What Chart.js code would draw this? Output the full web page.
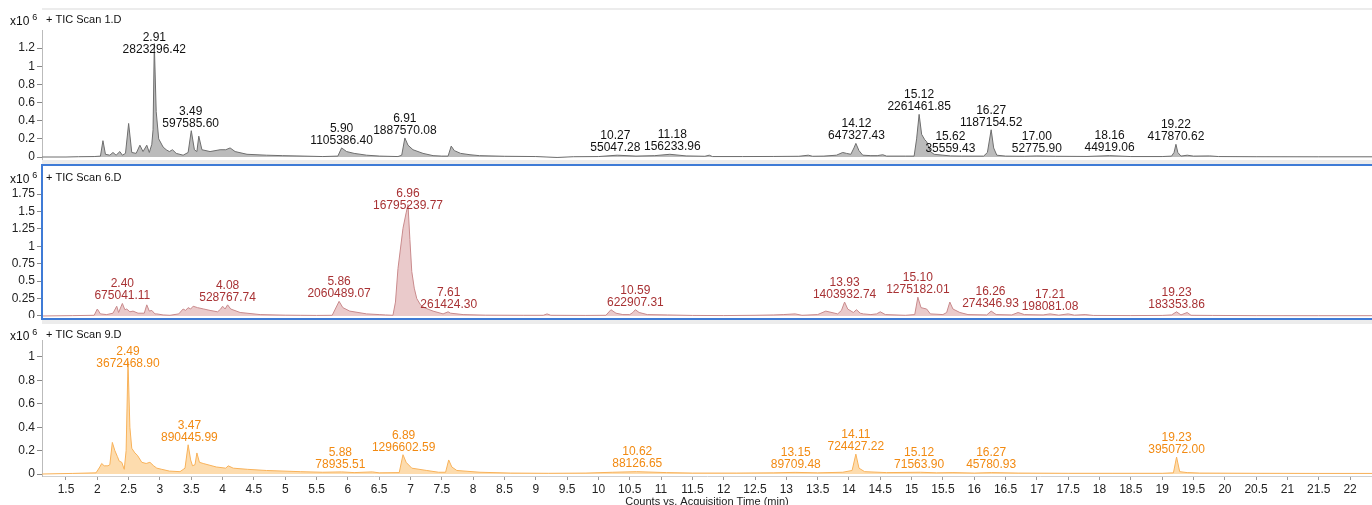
<!DOCTYPE html>
<html>
<head>
<meta charset="utf-8">
<script src="https://cdn.jsdelivr.net/npm/chart.js@4.4.1/dist/chart.umd.min.js"></script>
<style>
  body { margin: 0; background: #fff; width: 1372px; height: 505px; overflow: hidden; position: relative; font-family: "Liberation Sans", Arial, sans-serif; }
  canvas { position: absolute; left: 0; }
  .sep { position: absolute; left: 42px; width: 1330px; background: #ececec; }
  #box6 { position: absolute; left: 41px; top: 164px; width: 1340px; height: 152px; border: 2px solid #3f7bd6; pointer-events: none; }
</style>
</head>
<body>
<div class="sep" style="top:8px;height:2px"></div>
<div class="sep" style="top:160px;height:4px"></div>
<div class="sep" style="top:320px;height:4px"></div>
<canvas id="tic1" width="1372" height="150" style="top:10px"></canvas>
<canvas id="tic6" width="1372" height="153" style="top:165px"></canvas>
<canvas id="tic9" width="1372" height="183" style="top:322px"></canvas>
<div id="box6"></div>
<script>
// x axis (acquisition time, min)
const xTicks = [1.5, 2, 2.5, 3, 3.5, 4, 4.5, 5, 5.5, 6, 6.5, 7, 7.5, 8, 8.5, 9, 9.5, 10, 10.5, 11,
  11.5, 12, 12.5, 13, 13.5, 14, 14.5, 15, 15.5, 16, 16.5, 17, 17.5, 18, 18.5, 19, 19.5, 20, 20.5, 21, 21.5, 22];

// TIC Scan 1.D  (counts x10^6)
const tic1Time = [1.12, 1.5, 1.7, 1.95, 2.05, 2.09, 2.13, 2.2, 2.25, 2.3, 2.36, 2.4, 2.45, 2.5, 2.55, 2.62, 2.68, 2.73, 2.79, 2.83,
  2.87, 2.89, 2.91, 2.94, 2.98, 3.05, 3.1, 3.15, 3.2, 3.26, 3.37, 3.45, 3.5, 3.55, 3.59, 3.62, 3.67, 3.8, 3.96, 4.05,
  4.12, 4.2, 4.39, 4.7, 4.96, 5.3, 5.6, 5.84, 5.9, 5.98, 6.1, 6.3, 6.51, 6.8, 6.86, 6.91, 6.96, 7.04, 7.2, 7.36,
  7.5, 7.6, 7.65, 7.7, 7.8, 7.95, 8.1, 8.5, 9.0, 9.34, 9.6, 10.0, 10.3, 10.6, 10.9, 11.14, 11.4, 11.7, 11.77, 11.82,
  12.3, 12.8, 13.2, 13.35, 13.42, 13.6, 13.8, 13.9, 13.96, 14.03, 14.08, 14.11, 14.16, 14.22, 14.35, 14.45, 14.54, 14.6, 14.9, 15.04,
  15.08, 15.12, 15.16, 15.21, 15.24, 15.3, 15.36, 15.5, 15.62, 15.8, 16.15, 16.21, 16.27, 16.31, 16.36, 16.5, 16.8, 17.0, 17.3, 17.8,
  18.16, 18.5, 19.0, 19.15, 19.19, 19.22, 19.25, 19.3, 19.4, 19.5, 19.76, 19.9, 20.5, 21.5, 22.4];
const tic1Counts = [0, 0, 0.003, 0.005, 0.01, 0.18, 0.03, 0.02, 0.05, 0.02, 0.06, 0.02, 0.04, 0.37, 0.05, 0.04, 0.13, 0.06, 0.13, 0.05,
  0.14, 0.3, 1.25, 0.5, 0.2, 0.11, 0.08, 0.06, 0.08, 0.04, 0.02, 0.05, 0.29, 0.08, 0.06, 0.23, 0.08, 0.06, 0.08, 0.08,
  0.1, 0.06, 0.03, 0.02, 0.015, 0.01, 0.005, 0.01, 0.1, 0.06, 0.04, 0.02, 0.01, 0.005, 0.02, 0.21, 0.13, 0.08, 0.04, 0.015,
  0.01, 0.01, 0.12, 0.07, 0.04, 0.025, 0.015, 0.008, 0.005, -0.005, 0.003, 0.005, 0.02, 0.01, 0.015, 0.03, 0.012, 0.008, 0.02, 0.005,
  0.005, 0.006, 0.008, 0.02, 0.008, 0.01, 0.02, 0.05, 0.04, 0.03, 0.1, 0.15, 0.07, 0.02, 0.015, 0.015, 0.025, 0.01, 0.01, 0.01,
  0.2, 0.47, 0.25, 0.19, 0.17, 0.06, 0.03, 0.02, 0.012, 0.01, 0.01, 0.05, 0.3, 0.1, 0.02, 0.01, 0.008, 0.012, 0.008, 0.006,
  0.015, 0.005, 0.005, 0.01, 0.05, 0.14, 0.05, 0.01, 0.02, 0.01, 0.012, 0.005, 0.003, 0.002, 0.002];
const tic1PeakRT = [2.91, 3.49, 5.90, 6.91, 10.27, 11.18, 14.12, 15.12, 15.62, 16.27, 17.00, 18.16, 19.22];
const tic1PeakArea = ['2823296.42', '597585.60', '1105386.40', '1887570.08', '55047.28', '156233.96', '647327.43',
  '2261461.85', '35559.43', '1187154.52', '52775.90', '44919.06', '417870.62'];
const tic1YTicks = [0, 0.2, 0.4, 0.6, 0.8, 1, 1.2];

// TIC Scan 6.D
const tic6Time = [1.12, 1.6, 1.95, 2.0, 2.05, 2.15, 2.25, 2.31, 2.34, 2.4, 2.44, 2.47, 2.52, 2.57, 2.65, 2.75, 2.79, 2.83, 2.87, 2.92,
  2.95, 3.05, 3.16, 3.3, 3.37, 3.41, 3.45, 3.49, 3.53, 3.6, 3.7, 3.8, 3.92, 3.97, 4.0, 4.04, 4.08, 4.13, 4.28, 4.6,
  5.0, 5.24, 5.5, 5.75, 5.86, 5.92, 6.03, 6.3, 6.5, 6.6, 6.72, 6.76, 6.8, 6.88, 6.93, 6.96, 6.99, 7.02, 7.06, 7.1,
  7.16, 7.22, 7.36, 7.52, 7.6, 7.64, 7.84, 8.2, 8.8, 9.12, 9.18, 9.24, 9.8, 10.12, 10.2, 10.28, 10.39, 10.5, 10.55, 10.59,
  10.65, 10.78, 11.1, 11.5, 12.0, 12.5, 12.8, 12.95, 13.14, 13.25, 13.5, 13.63, 13.82, 13.88, 13.93, 13.98, 14.07, 14.12, 14.18, 14.23,
  14.35, 14.44, 14.5, 14.58, 14.9, 15.05, 15.1, 15.15, 15.24, 15.3, 15.5, 15.56, 15.61, 15.66, 15.77, 15.9, 16.2, 16.27, 16.35, 16.6,
  16.7, 16.8, 17.1, 17.21, 17.35, 17.5, 17.6, 17.77, 17.9, 18.5, 19.0, 19.15, 19.23, 19.3, 19.4, 19.46, 19.8, 20.5, 21.5, 22.4];
const tic6Counts = [0, 0.005, 0.01, 0.1, 0.03, 0.02, 0.04, 0.14, 0.05, 0.18, 0.09, 0.1, 0.06, 0.07, 0.04, 0.04, 0.16, 0.07, 0.08, 0.03,
  0.03, 0.015, 0.01, 0.03, 0.1, 0.08, 0.12, 0.1, 0.14, 0.12, 0.1, 0.08, 0.06, 0.1, 0.14, 0.1, 0.16, 0.1, 0.05, 0.02,
  0.012, 0.01, 0.008, 0.01, 0.21, 0.12, 0.07, 0.03, 0.02, 0.015, 0.01, 0.2, 0.68, 1.26, 1.48, 1.6, 1.1, 0.64, 0.4, 0.25,
  0.16, 0.12, 0.07, 0.03, 0.06, 0.04, 0.02, 0.012, 0.01, 0.01, 0.03, 0.01, 0.008, 0.01, 0.09, 0.04, 0.02, 0.02, 0.05, 0.09,
  0.05, 0.02, 0.015, 0.008, 0.006, 0.01, 0.015, 0.02, 0.03, 0.01, 0.02, 0.07, 0.03, 0.08, 0.2, 0.1, 0.05, 0.09, 0.04, 0.03,
  0.02, 0.03, 0.06, 0.02, 0.01, 0.02, 0.27, 0.12, 0.1, 0.03, 0.02, 0.05, 0.2, 0.1, 0.05, 0.02, 0.015, 0.07, 0.02, 0.015,
  0.05, 0.02, 0.015, 0.03, 0.012, 0.03, 0.012, 0.02, 0.008, 0.006, 0.008, 0.015, 0.06, 0.015, 0.05, 0.01, 0.008, 0.005, 0.004, 0.004];
const tic6PeakRT = [2.40, 4.08, 5.86, 6.96, 7.61, 10.59, 13.93, 15.10, 16.26, 17.21, 19.23];
const tic6PeakArea = ['675041.11', '528767.74', '2060489.07', '16795239.77', '261424.30', '622907.31', '1403932.74',
  '1275182.01', '274346.93', '198081.08', '183353.86'];
const tic6YTicks = [0, 0.25, 0.5, 0.75, 1, 1.25, 1.5, 1.75];

// TIC Scan 9.D
const tic9Time = [1.12, 1.6, 1.98, 2.04, 2.07, 2.11, 2.14, 2.17, 2.2, 2.24, 2.28, 2.32, 2.35, 2.39, 2.43, 2.46, 2.49, 2.52, 2.55, 2.6,
  2.64, 2.71, 2.78, 2.84, 2.9, 2.95, 3.03, 3.15, 3.32, 3.4, 3.45, 3.49, 3.52, 3.56, 3.59, 3.63, 3.69, 3.9, 4.05, 4.09,
  4.17, 4.4, 4.7, 5.24, 5.6, 5.9, 6.1, 6.39, 6.5, 6.82, 6.88, 6.93, 7.02, 7.26, 7.45, 7.56, 7.61, 7.66, 7.74, 8.11,
  8.6, 9.2, 9.8, 10.23, 10.61, 11.09, 11.5, 12.2, 12.8, 13.14, 13.5, 13.9, 14.05, 14.11, 14.16, 14.25, 14.6, 15.14, 15.4, 15.66,
  16.0, 16.28, 16.7, 17.5, 18.2, 19.0, 19.18, 19.23, 19.28, 19.4, 19.6, 20.5, 21.5, 22.4];
const tic9Counts = [0, 0.005, 0.01, 0.06, 0.09, 0.07, 0.07, 0.07, 0.08, 0.27, 0.2, 0.15, 0.11, 0.1, 0.04, 0.2, 0.96, 0.4, 0.22, 0.18,
  0.16, 0.1, 0.09, 0.1, 0.07, 0.05, 0.04, 0.025, 0.02, 0.05, 0.25, 0.12, 0.07, 0.08, 0.18, 0.1, 0.09, 0.06, 0.05, 0.07,
  0.05, 0.04, 0.03, 0.02, 0.015, 0.018, 0.012, 0.018, 0.01, 0.012, 0.165, 0.1, 0.05, 0.03, 0.015, 0.015, 0.12, 0.06, 0.03, 0.015,
  0.008, 0.006, 0.008, 0.015, 0.02, 0.012, 0.008, 0.008, 0.01, 0.014, 0.01, 0.015, 0.03, 0.17, 0.05, 0.02, 0.012, 0.015, 0.01, 0.012,
  0.008, 0.012, 0.008, 0.006, 0.006, 0.006, 0.01, 0.145, 0.02, 0.012, 0.008, 0.006, 0.005, 0.005];
const tic9PeakRT = [2.49, 3.47, 5.88, 6.89, 10.62, 13.15, 14.11, 15.12, 16.27, 19.23];
const tic9PeakArea = ['3672468.90', '890445.99', '78935.51', '1296602.59', '88126.65', '89709.48', '724427.22',
  '71563.90', '45780.93', '395072.00'];
const tic9YTicks = [0, 0.2, 0.4, 0.6, 0.8, 1];

const FONT = '"Liberation Sans", Arial, Helvetica, sans-serif';

// height of the trace near a retention time (for placing the peak labels)
function apexAt(times, counts, rt) {
  let best = 0;
  for (let i = 0; i < times.length; i++) {
    if (Math.abs(times[i] - rt) <= 0.035) best = Math.max(best, counts[i]);
    if (i > 0 && times[i - 1] <= rt && times[i] >= rt) {
      const f = (rt - times[i - 1]) / (times[i] - times[i - 1]);
      best = Math.max(best, counts[i - 1] + f * (counts[i] - counts[i - 1]));
    }
  }
  return best;
}

const peakLabels = {
  id: 'peakLabels',
  afterDatasetsDraw(chart, args, opts) {
    const ctx = chart.ctx;
    const xs = chart.scales.x, ys = chart.scales.y;
    const area = chart.chartArea;
    ctx.save();
    // header
    ctx.fillStyle = '#111';
    ctx.textBaseline = 'middle';
    ctx.textAlign = 'left';
    ctx.font = '12px ' + FONT;
    ctx.fillText('x10', 10, opts.headY + 2);
    const w = ctx.measureText('x10').width;
    ctx.font = '9px ' + FONT;
    ctx.fillText('6', 10 + w + 3, opts.headY - 2);
    ctx.font = '11px ' + FONT;
    ctx.fillText(opts.title, 46, opts.headY);
    // peak annotations
    ctx.font = '12px ' + FONT;
    ctx.textAlign = 'center';
    ctx.fillStyle = opts.color;
    opts.rts.forEach((rt, i) => {
      const x = xs.getPixelForValue(rt);
      let yb = ys.getPixelForValue(apexAt(opts.times, opts.counts, rt)) - 7.5;
      let yt = yb - 12;
      if (yt < area.top + opts.clamp) { yt = area.top + opts.clamp; yb = yt + 12; }
      ctx.fillText(rt.toFixed(2), x, yt);
      ctx.fillText(opts.areas[i], x, yb);
    });
    ctx.restore();
  }
};

function makePanel(id, p) {
  const points = p.times.map((t, i) => ({ x: t, y: p.counts[i] }));
  return new Chart(document.getElementById(id), {
    type: 'line',
    data: {
      datasets: [{
        data: points,
        borderColor: p.line,
        backgroundColor: p.fill,
        borderWidth: 1,
        pointRadius: 0,
        tension: 0,
        fill: 'origin'
      }]
    },
    plugins: [peakLabels],
    options: {
      responsive: false,
      animation: false,
      devicePixelRatio: 1,
      layout: { padding: { top: p.padTop, right: 0, bottom: 0, left: 0 } },
      plugins: {
        legend: { display: false },
        tooltip: { enabled: false },
        peakLabels: {
          title: p.title, headY: p.headY, color: p.text, clamp: p.clamp,
          rts: p.rts, areas: p.areas, times: p.times, counts: p.counts
        }
      },
      scales: {
        x: {
          type: 'linear',
          min: 1.117,
          max: 22.35,
          display: p.showX,
          afterBuildTicks: (axis) => { axis.ticks = xTicks.map(v => ({ value: v })); },
          afterFit: (axis) => {
            axis.height = p.showX ? 29 : 0;
            axis.paddingLeft = 0; axis.paddingRight = 0;
          },
          grid: { drawOnChartArea: false, tickLength: 4, color: '#999' },
          border: { color: '#d0d0d0' },
          ticks: {
            autoSkip: false, maxRotation: 0, padding: 2,
            color: '#222', font: { family: FONT, size: 12 },
            callback: (v) => String(v)
          },
          title: {
            display: true,
            text: 'Counts vs. Acquisition Time (min)',
            color: '#222',
            font: { family: FONT, size: 11 },
            padding: { top: 0, bottom: -4 }
          }
        },
        y: {
          min: p.yMin,
          max: p.yMax,
          afterBuildTicks: (axis) => { axis.ticks = p.yTicks.map(v => ({ value: v })); },
          afterFit: (axis) => {
            axis.width = 42;
            axis.paddingTop = 0; axis.paddingBottom = 0;
          },
          grid: { drawOnChartArea: false, tickLength: 5, color: '#888' },
          border: { display: p.yBorder, color: '#bbb' },
          ticks: {
            padding: 2, color: '#222', font: { family: FONT, size: 12 },
            callback: (v) => String(v)
          }
        }
      }
    }
  });
}

makePanel('tic1', {
  times: tic1Time, counts: tic1Counts, rts: tic1PeakRT, areas: tic1PeakArea, yTicks: tic1YTicks,
  title: '+ TIC Scan 1.D', line: '#6e6e6e', fill: 'rgba(150,150,150,0.65)', text: '#111',
  yMin: -0.033, yMax: 1.4, padTop: 20, headY: 10, clamp: 8, showX: false, yBorder: true
});
makePanel('tic6', {
  times: tic6Time, counts: tic6Counts, rts: tic6PeakRT, areas: tic6PeakArea, yTicks: tic6YTicks,
  title: '+ TIC Scan 6.D', line: '#c98a8c', fill: 'rgba(214,150,152,0.5)', text: '#a83234',
  yMin: -0.029, yMax: 1.91, padTop: 18, headY: 13, clamp: 11, showX: false, yBorder: false
});
makePanel('tic9', {
  times: tic9Time, counts: tic9Counts, rts: tic9PeakRT, areas: tic9PeakArea, yTicks: tic9YTicks,
  title: '+ TIC Scan 9.D', line: '#f8b25a', fill: 'rgba(252,196,120,0.6)', text: '#f28a12',
  yMin: -0.017, yMax: 1.145, padTop: 18, headY: 13, clamp: 12, showX: true, yBorder: true
});
</script>
</body>
</html>
